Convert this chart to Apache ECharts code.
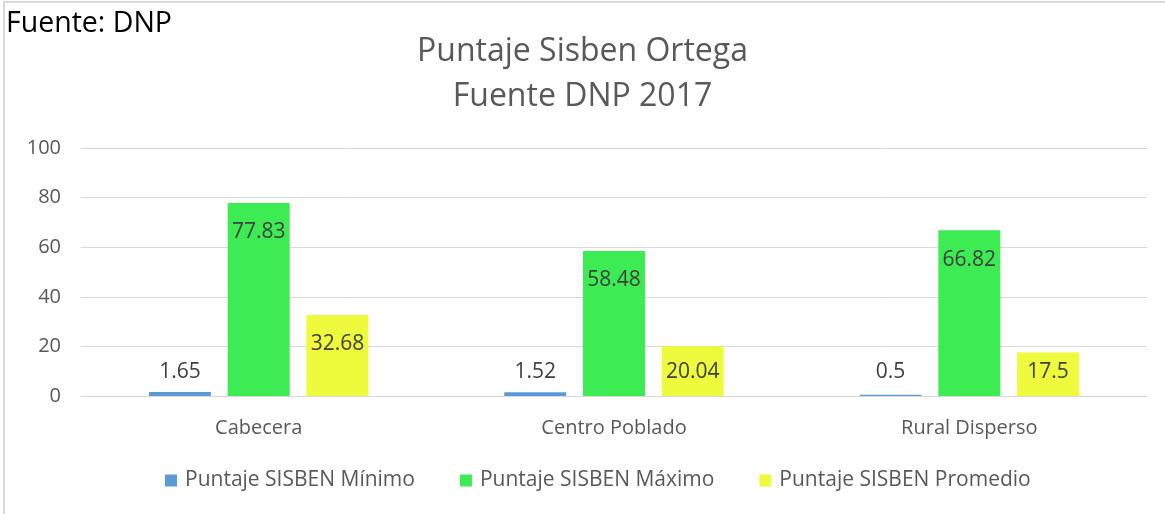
<!DOCTYPE html>
<html>
<head>
<meta charset="utf-8">
<script src="https://cdn.jsdelivr.net/npm/echarts@6/dist/echarts.min.js"></script>
<style>
  html, body { margin: 0; padding: 0; background: #ffffff; }
  #chart { width: 1165px; height: 514px; }
</style>
</head>
<body>
<div id="chart"></div>
<script>
// Zones of the municipality
const categories = ['Cabecera', 'Centro Poblado', 'Rural Disperso'];

// SISBEN scores per zone
const minimo   = [1.65, 1.52, 0.5];
const maximo   = [77.83, 58.48, 66.82];
const promedio = [32.68, 20.04, 17.5];

const seriesNames = ['Puntaje SISBEN Mínimo', 'Puntaje SISBEN Máximo', 'Puntaje SISBEN Promedio'];
const seriesColors = ['#5b9bd5', '#3cec52', '#eefa3c'];

const yTicks = [0, 20, 40, 60, 80, 100];

const FONT = 'Open Sans';

// Labels sit just inside the top of the bar; short bars keep the label
// lifted off the baseline instead.
function withLabels(values) {
  return values.map(v => ({
    value: v,
    label: v < 22
      ? { position: 'insideBottom', distance: 13 }
      : { position: 'insideTop', distance: 19 }
  }));
}

const chart = echarts.init(document.getElementById('chart'), null, { renderer: 'canvas' });

const makeSeries = (name, values, color) => ({
  name: name,
  type: 'bar',
  data: withLabels(values),
  barWidth: 62,
  barGap: '27%',
  itemStyle: { color: color },
  label: {
    show: true,
    color: '#404040',
    fontFamily: FONT,
    fontSize: 21
  }
});

chart.setOption({
  animation: false,
  backgroundColor: '#ffffff',
  title: {
    text: 'Puntaje Sisben Ortega\nFuente DNP 2017',
    left: 'center',
    top: 24,
    textStyle: {
      color: '#595959',
      fontFamily: FONT,
      fontSize: 32,
      fontWeight: 'normal',
      lineHeight: 45
    }
  },
  graphic: [
    { type: 'rect', shape: { x: 4, y: 2, width: 1200, height: 600 },
      style: { fill: 'none', stroke: '#d9d9d9', lineWidth: 2 } },
    { type: 'text', left: 6, top: 9,
      style: { text: 'Fuente: DNP', fill: '#000000', font: '28.5px "Open Sans"' } }
  ],
  legend: {
    data: seriesNames,
    bottom: 18,
    left: 160,
    itemWidth: 12,
    itemHeight: 12,
    itemGap: 45,
    icon: 'rect',
    textStyle: { color: '#595959', fontFamily: FONT, fontSize: 21, padding: [0, 0, 0, 3] }
  },
  grid: { left: 81, right: 18, top: 148, bottom: 118 },
  xAxis: {
    type: 'category',
    data: categories,
    axisLine: { lineStyle: { color: '#d9d9d9', width: 1 } },
    axisTick: { show: false },
    axisLabel: { color: '#595959', fontFamily: FONT, fontSize: 20, margin: 22 }
  },
  yAxis: {
    type: 'value',
    min: yTicks[0],
    max: yTicks[yTicks.length - 1],
    interval: yTicks[1] - yTicks[0],
    axisLine: { show: false },
    axisTick: { show: false },
    splitLine: { lineStyle: { color: '#d9d9d9', width: 1 } },
    axisLabel: { color: '#595959', fontFamily: FONT, fontSize: 20, margin: 20 }
  },
  series: [
    makeSeries(seriesNames[0], minimo, seriesColors[0]),
    makeSeries(seriesNames[1], maximo, seriesColors[1]),
    makeSeries(seriesNames[2], promedio, seriesColors[2])
  ]
});
</script>
</body>
</html>
